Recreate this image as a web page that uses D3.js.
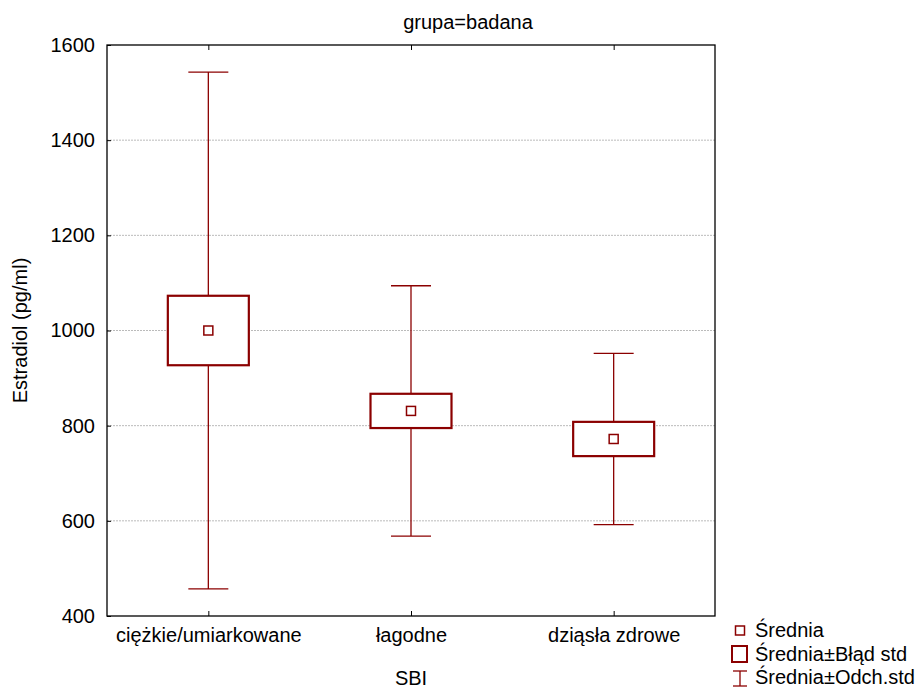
<!DOCTYPE html>
<html><head><meta charset="utf-8">
<script src="https://cdn.jsdelivr.net/npm/d3@7"></script>
<style>body{margin:0;background:#fff;} text{font-family:"Liberation Sans",Arial,sans-serif;}</style>
</head><body><svg id="c" width="920" height="688"></svg>
<script>
const categories = ["ciężkie/umiarkowane", "łagodne", "dziąsła zdrowe"];
const means = [1000, 831, 772];
const stdErr = [73, 36, 36];
const stdDev = [543, 263, 180];
const yTicks = [400, 600, 800, 1000, 1200, 1400, 1600];
const legendLabels = ["Średnia", "Średnia±Błąd std", "Średnia±Odch.std"];

const FS = 20;
const svg = d3.select("#c");
const L = 107, R = 715, T = 45, B = 616;
const red = "#8b0000";
const x = d3.scalePoint().domain(categories).range([L, R]).padding(0.5);
const y = d3.scaleLinear().domain([400, 1600]).range([B, T]);

// grid
svg.append("g").selectAll("line").data(yTicks.filter(d => d > 400 && d < 1600)).join("line")
  .attr("x1", L).attr("x2", R).attr("y1", d => y(d)).attr("y2", d => y(d))
  .attr("stroke", "#bbb").attr("stroke-dasharray", "2,1").attr("stroke-width", 1);

// axes
const yAxis = svg.append("g").attr("transform", `translate(${L},0)`)
  .call(d3.axisLeft(y).tickValues(yTicks).tickSizeInner(-4).tickSizeOuter(0).tickPadding(12).tickFormat(d3.format("d")));
yAxis.select(".domain").remove();
yAxis.selectAll("text").attr("font-size", FS).attr("fill", "#000");
yAxis.selectAll("line").attr("stroke", "#000");

const xAxis = svg.append("g").attr("transform", `translate(0,${B})`)
  .call(d3.axisBottom(x).tickSizeInner(-5).tickSizeOuter(0).tickPadding(12));
xAxis.select(".domain").remove();
xAxis.selectAll("text").attr("font-size", FS).attr("fill", "#000");
xAxis.selectAll("line").attr("stroke", "#000");

const xTop = svg.append("g").attr("transform", `translate(0,${T})`)
  .call(d3.axisTop(x).tickSizeInner(-5).tickSizeOuter(0).tickFormat(""));
xTop.select(".domain").remove();
xTop.selectAll("line").attr("stroke", "#000");

// frame
svg.append("rect").attr("x", L).attr("y", T).attr("width", R - L).attr("height", B - T)
  .attr("fill", "none").attr("stroke", "#000").attr("stroke-width", 1.3);

const data = categories.map((c, i) => ({c, m: means[i], se: stdErr[i], sd: stdDev[i]}));
const g = svg.append("g");
const capW = 40, boxW = 81, mk = 9;
data.forEach(d => {
  const cx = x(d.c);
  g.append("line").attr("x1", cx).attr("x2", cx).attr("y1", y(d.m + d.sd)).attr("y2", y(d.m - d.sd))
    .attr("stroke", red).attr("stroke-width", 1.3);
  [d.m + d.sd, d.m - d.sd].forEach(v => {
    g.append("line").attr("x1", cx - capW / 2).attr("x2", cx + capW / 2).attr("y1", y(v)).attr("y2", y(v))
      .attr("stroke", red).attr("stroke-width", 1.3);
  });
  g.append("rect").attr("x", cx - boxW / 2).attr("y", y(d.m + d.se)).attr("width", boxW)
    .attr("height", y(d.m - d.se) - y(d.m + d.se)).attr("fill", "#fff").attr("stroke", red).attr("stroke-width", 2.2);
  g.append("rect").attr("x", cx - mk / 2).attr("y", y(d.m) - mk / 2).attr("width", mk).attr("height", mk)
    .attr("fill", "#fff").attr("stroke", red).attr("stroke-width", 1.5);
});

// titles
svg.append("text").attr("x", 468).attr("y", 29).attr("text-anchor", "middle")
  .attr("font-size", FS).text("grupa=badana");
svg.append("text").attr("x", x(categories[1])).attr("y", 685).attr("text-anchor", "middle")
  .attr("font-size", FS).text("SBI");
svg.append("text").attr("transform", `translate(27,${(T + B) / 2}) rotate(-90)`).attr("text-anchor", "middle")
  .attr("font-size", FS).text("Estradiol (pg/ml)");

// legend
const lg = svg.append("g");
const lx = 740;
lg.append("rect").attr("x", lx - 4.5).attr("y", 626).attr("width", 9).attr("height", 9)
  .attr("fill", "#fff").attr("stroke", red).attr("stroke-width", 1.5);
lg.append("rect").attr("x", lx - 8).attr("y", 646).attr("width", 15).attr("height", 16)
  .attr("fill", "#fff").attr("stroke", red).attr("stroke-width", 2);
lg.append("line").attr("x1", lx).attr("x2", lx).attr("y1", 671).attr("y2", 686).attr("stroke", red).attr("stroke-width", 1.3);
lg.append("line").attr("x1", lx - 7).attr("x2", lx + 7).attr("y1", 671).attr("y2", 671).attr("stroke", red).attr("stroke-width", 1.3);
lg.append("line").attr("x1", lx - 7).attr("x2", lx + 7).attr("y1", 686).attr("y2", 686).attr("stroke", red).attr("stroke-width", 1.3);
[637, 661, 684].forEach((yy, i) => {
  lg.append("text").attr("x", 755).attr("y", yy).attr("font-size", FS).text(legendLabels[i]);
});
</script></body></html>
